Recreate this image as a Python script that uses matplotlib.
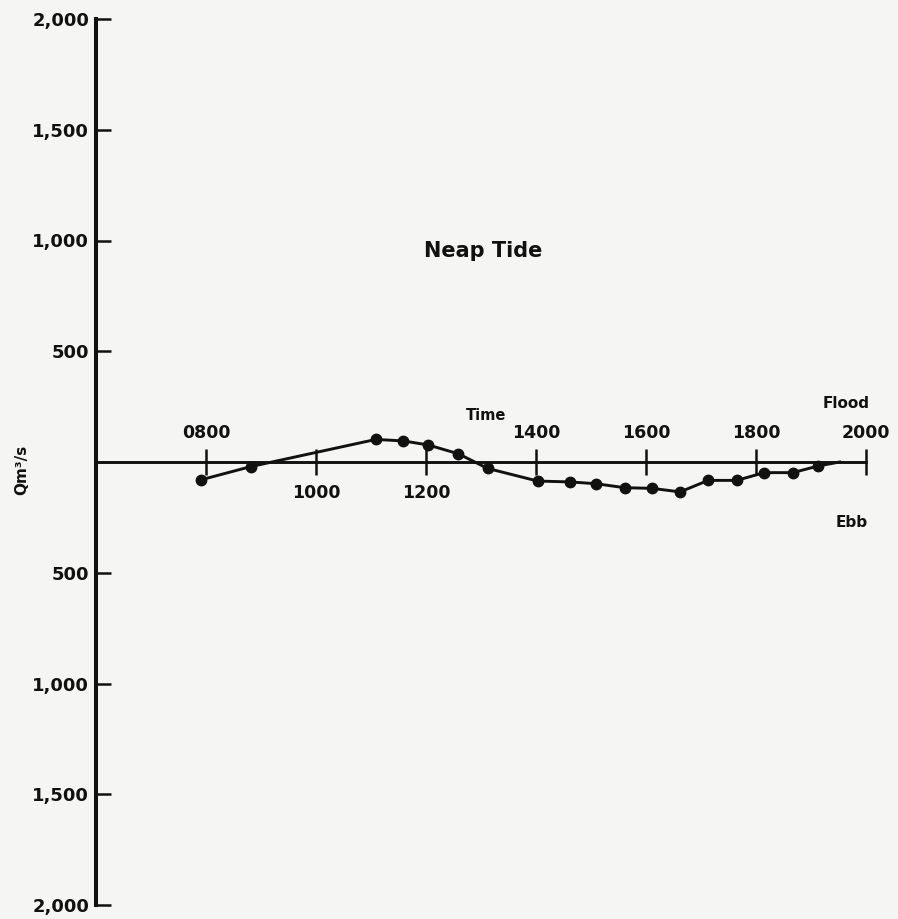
import matplotlib
matplotlib.use('Agg')
import matplotlib.pyplot as plt

# ---- data ----
times = [7.90, 8.81, 11.09, 11.59, 12.04, 12.59, 13.12, 14.03, 14.62, 15.09,
         15.61, 16.11, 16.62, 17.13, 17.65, 18.15, 18.67, 19.13]
discharge = [-81, -21, 102, 95, 77, 37, -29, -86, -90, -98,
             -116, -119, -135, -83, -83, -48, -48, -18]
curve_end_time = 19.52
curve_end_q = 0

xtick_values = [8, 10, 12, 14, 16, 18, 20]
xtick_labels = ['0800', '1000', '1200', '1400', '1600', '1800', '2000']
xtick_label_above = [True, False, False, True, True, True, True]
ytick_values = [2000, 1500, 1000, 500, -500, -1000, -1500, -2000]
ytick_labels = ['2,000', '1,500', '1,000', '500', '500', '1,000', '1,500', '2,000']

INK = '#111111'
BG = '#f5f5f3'

plt.rcParams['font.family'] = ['DejaVu Sans']
plt.rcParams['font.weight'] = 'bold'

fig = plt.figure(figsize=(8.98, 9.19), dpi=100, facecolor=BG)
ax = fig.add_axes([96 / 898, 14 / 919, 770 / 898, 886 / 919])
ax.set_facecolor(BG)

ax.set_xlim(6, 20)
ax.set_ylim(-2000, 2000)

for s in ['top', 'right']:
    ax.spines[s].set_visible(False)
ax.spines['left'].set_linewidth(2.9)
ax.spines['left'].set_color(INK)
ax.spines['bottom'].set_position(('data', 0))
ax.spines['bottom'].set_linewidth(2.1)
ax.spines['bottom'].set_color(INK)

# y ticks
ax.set_yticks(ytick_values)
ax.set_yticklabels(ytick_labels, fontsize=13, fontweight='bold', color=INK)
ax.tick_params(axis='y', direction='in', length=11, width=1.8, pad=5, color=INK)

# x ticks crossing the zero line, labels placed above or below
ax.set_xticks(xtick_values)
ax.set_xticklabels([''] * len(xtick_values))
ax.tick_params(axis='x', direction='inout', length=19, width=1.8, color=INK)
for t, lab, above in zip(xtick_values, xtick_labels, xtick_label_above):
    ax.annotate(lab, (t, 0), xytext=(0, 21 if above else -22),
                textcoords='offset points', ha='center', va='center',
                fontsize=12.5, fontweight='bold', color=INK)

# curve
ax.plot(times + [curve_end_time], discharge + [curve_end_q], color=INK,
        linewidth=2.1, solid_joinstyle='round', clip_on=False)
ax.plot(times, discharge, linestyle='none', marker='o', markersize=7.5,
        color=INK, clip_on=False)

# annotations
ax.text(13.04, 952, 'Neap Tide', ha='center', va='center', fontsize=15,
        fontweight='bold', color=INK)
ax.text(13.1, 210, 'Time', ha='center', va='center', fontsize=10.5,
        fontweight='bold', color=INK)
ax.text(19.64, 266, 'Flood', ha='center', va='center', fontsize=11,
        fontweight='bold', color=INK)
ax.text(19.74, -271, 'Ebb', ha='center', va='center', fontsize=11,
        fontweight='bold', color=INK)

fig.text(22 / 898, 1 - 470 / 919, 'Qm³/s', rotation=90, ha='center',
         va='center', fontsize=11, fontweight='bold', color=INK)

fig.savefig('out.png', dpi=100, facecolor=BG)
